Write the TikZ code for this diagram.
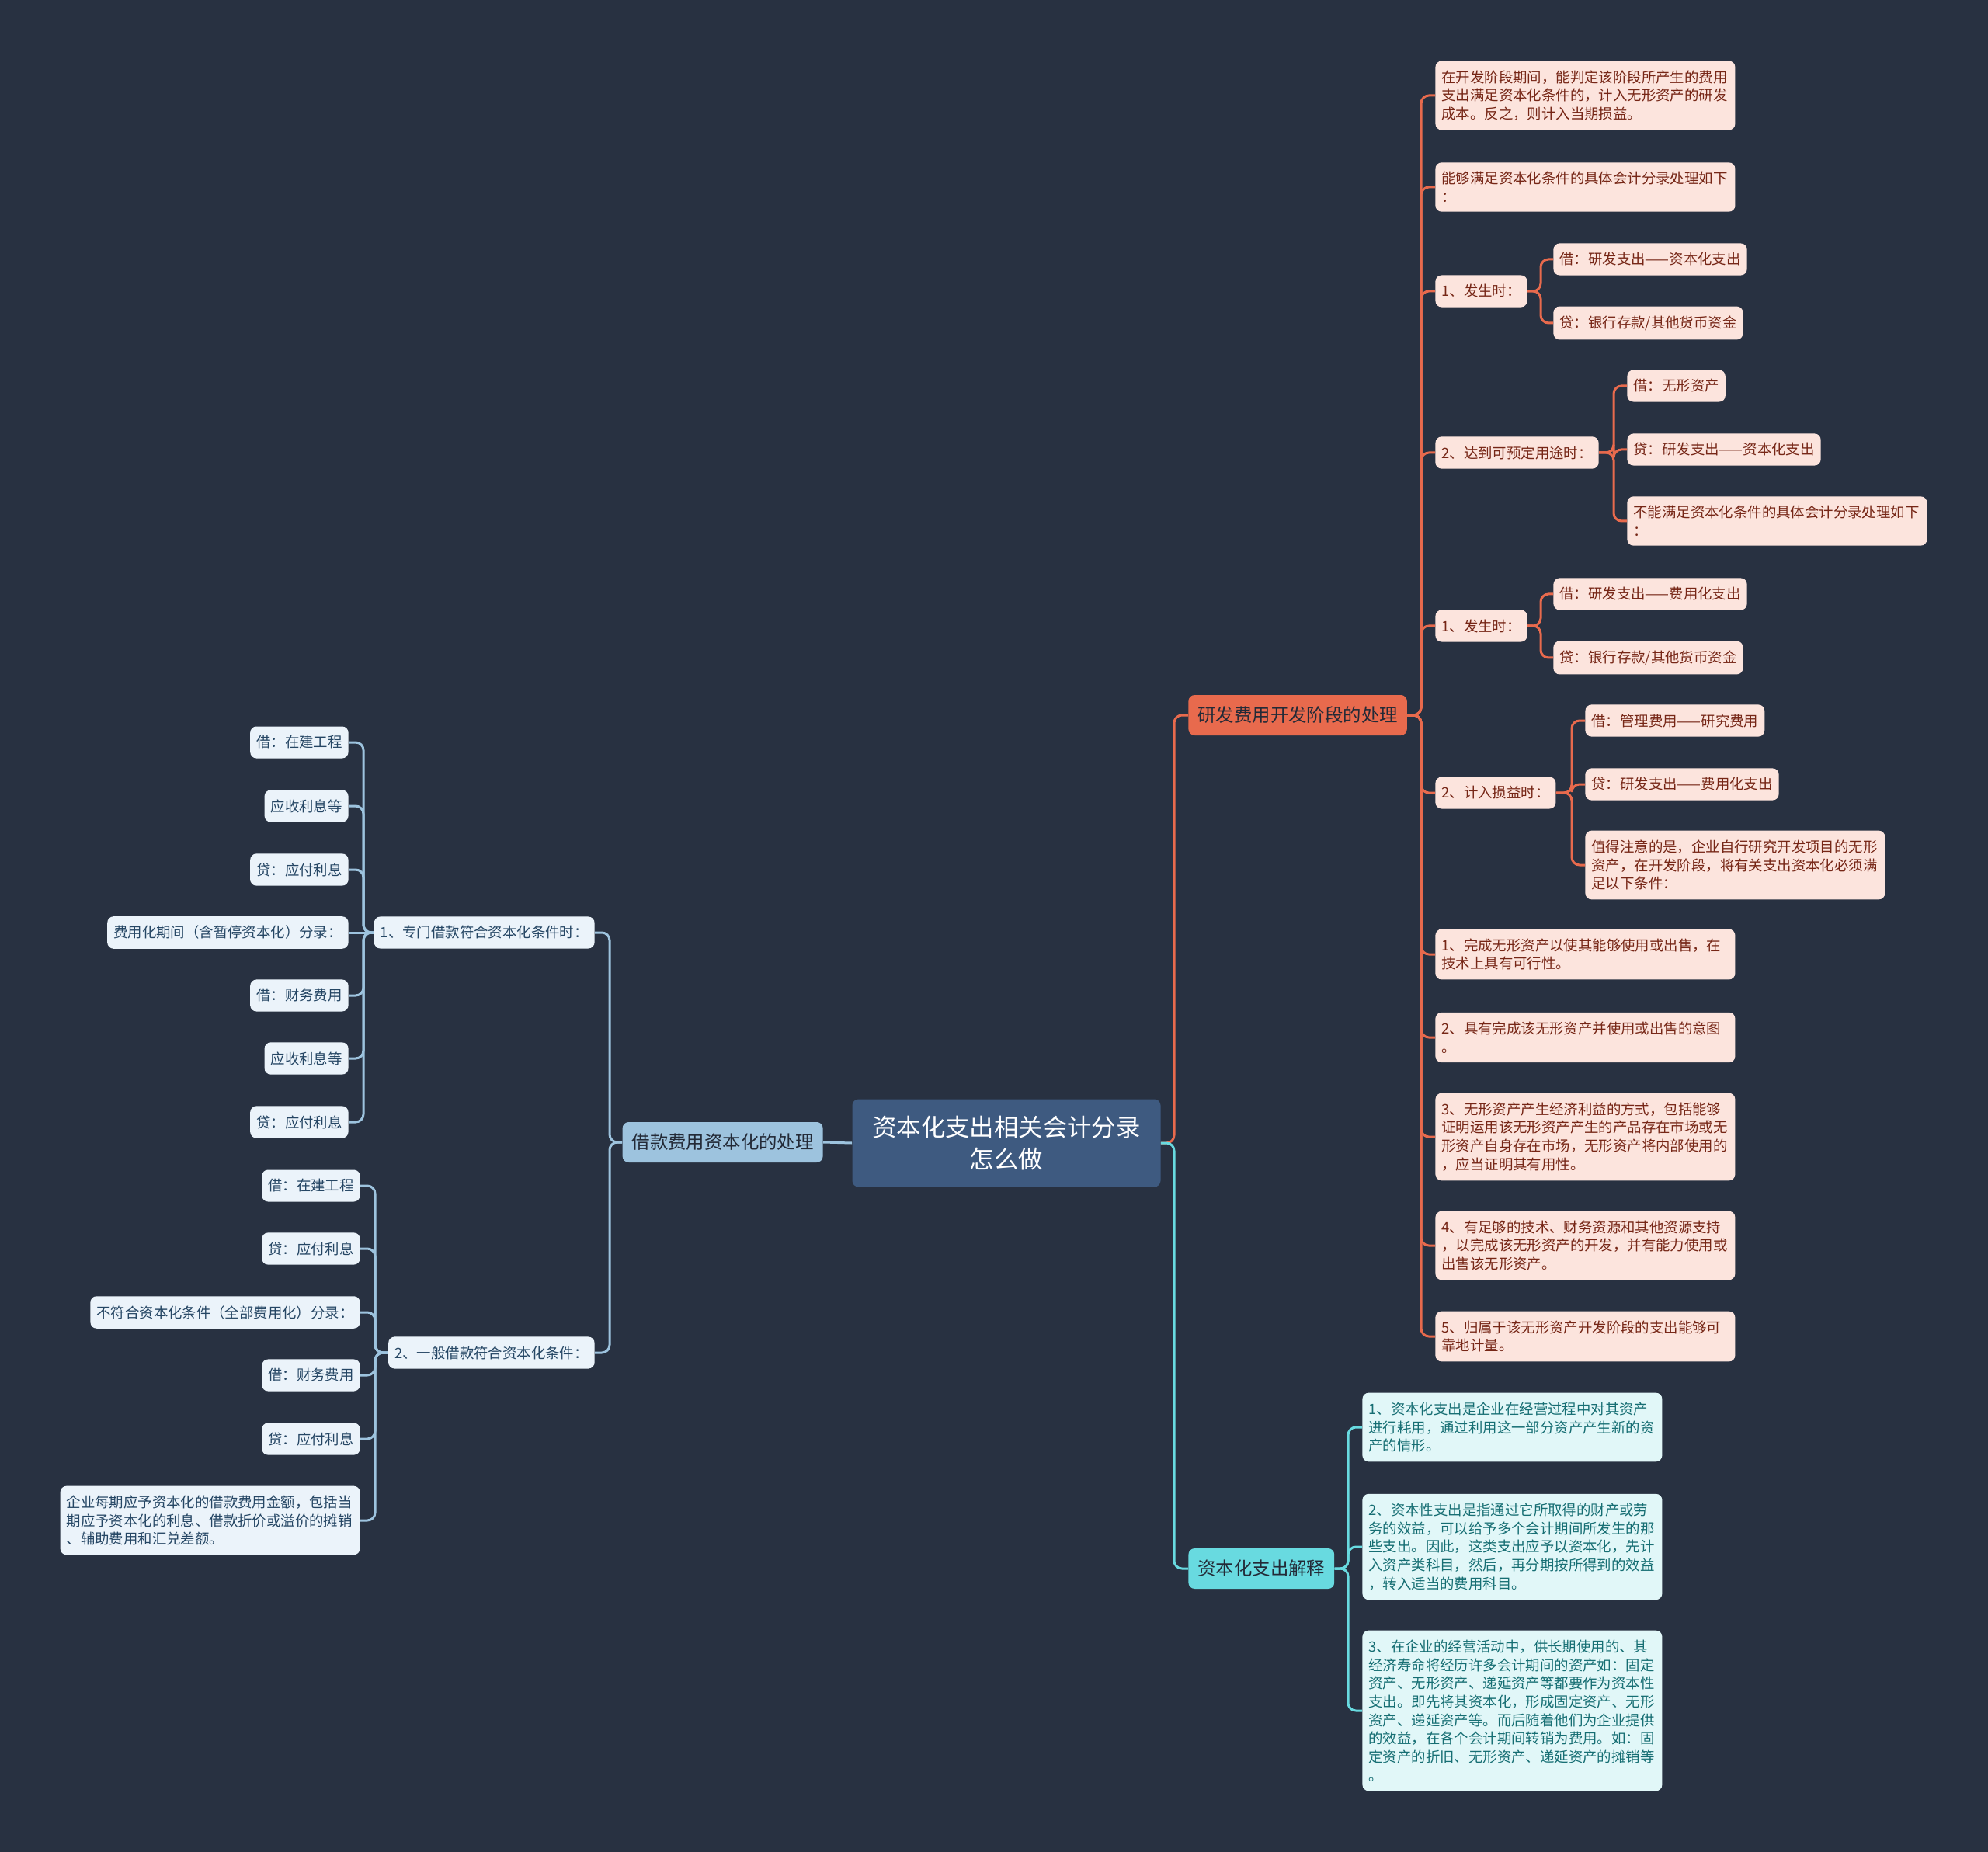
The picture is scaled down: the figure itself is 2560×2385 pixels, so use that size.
\documentclass[tikz,border=0pt]{standalone}
\usepackage{fontspec}
\setmainfont{Noto Sans CJK SC}
\definecolor{bgnavy}{RGB}{40,49,65}
\definecolor{rootblue}{RGB}{62,90,128}
\definecolor{oorange}{RGB}{232,106,77}
\definecolor{opink}{RGB}{252,228,221}
\definecolor{obrown}{RGB}{118,38,22}
\definecolor{bblue}{RGB}{157,195,222}
\definecolor{bpale}{RGB}{235,243,250}
\definecolor{bink}{RGB}{37,70,100}
\definecolor{ccyan}{RGB}{104,218,224}
\definecolor{cpale}{RGB}{225,247,248}
\definecolor{cink}{RGB}{22,110,115}
\definecolor{darkink}{RGB}{35,42,55}
\begin{document}
\begin{tikzpicture}[x=0.5pt,y=-0.5pt,
  rootbox/.style={fill=rootblue, text=white, rounded corners=4pt, align=center,
    minimum width=198.5pt, minimum height=56.5pt, font={\fontsize{15.7pt}{20.5pt}\selectfont}},
  branch/.style={rounded corners=4pt, inner xsep=6pt, minimum height=26pt, text=darkink,
    font={\fontsize{11.7pt}{14pt}\selectfont}},
  leaf/.style={rounded corners=4pt, inner xsep=4pt, inner ysep=6pt, minimum height=20.5pt,
    align=left, font={\fontsize{9.2pt}{11.85pt}\selectfont}},
  oleaf/.style={leaf, fill=opink, text=obrown},
  owide/.style={oleaf, text width=185pt},
  bleaf/.style={leaf, fill=bpale, text=bink},
  bwide/.style={bleaf, text width=185pt},
  cleaf/.style={leaf, fill=cpale, text=cink},
  cwide/.style={cleaf, text width=185pt},
  oline/.style={draw=oorange, line width=1.5pt, rounded corners=5pt},
  bline/.style={draw=bblue, line width=1.5pt, rounded corners=5pt},
  cline/.style={draw=ccyan, line width=1.5pt, rounded corners=5pt}]
\fill[bgnavy] (0,0) rectangle (2560,2385);
\useasboundingbox (0,0) rectangle (2560,2385);

\node[rootbox] (root) at (1296,1472) {资本化支出相关会计分录\\怎么做};
\node[branch, fill=bblue, anchor=east] (bor) at (1060,1471) {借款费用资本化的处理};
\node[branch, fill=oorange, anchor=west] (dev) at (1530,921) {研发费用开发阶段的处理};
\node[branch, fill=ccyan, anchor=west] (exp) at (1530,2020) {资本化支出解释};

\coordinate (sroot) at (1512,0);
\coordinate (sbor) at (785,0);
\coordinate (sb1) at (468,0);
\coordinate (sb2) at (483,0);
\coordinate (sdev) at (1830,0);
\coordinate (sd3) at (1984,0);
\coordinate (sd4) at (2078,0);
\coordinate (sd6) at (2024,0);
\coordinate (sexp) at (1736,0);

\node[bleaf, anchor=east] (b1) at (766,1201) {1、专门借款符合资本化条件时：};
\node[bleaf, anchor=east] (b2) at (766,1742) {2、一般借款符合资本化条件：};

\node[bleaf, anchor=east] (b1a) at (449,956) {借：在建工程};
\node[bleaf, anchor=east] (b1b) at (449,1038) {应收利息等};
\node[bleaf, anchor=east] (b1c) at (449,1120) {贷：应付利息};
\node[bleaf, anchor=east] (b1d) at (449,1201) {费用化期间（含暂停资本化）分录：};
\node[bleaf, anchor=east] (b1e) at (449,1282) {借：财务费用};
\node[bleaf, anchor=east] (b1f) at (449,1363) {应收利息等};
\node[bleaf, anchor=east] (b1g) at (449,1445) {贷：应付利息};

\node[bleaf, anchor=east] (b2a) at (464,1527) {借：在建工程};
\node[bleaf, anchor=east] (b2b) at (464,1608) {贷：应付利息};
\node[bleaf, anchor=east] (b2c) at (464,1690) {不符合资本化条件（全部费用化）分录：};
\node[bleaf, anchor=east] (b2d) at (464,1771) {借：财务费用};
\node[bleaf, anchor=east] (b2e) at (464,1853) {贷：应付利息};
\node[bwide, anchor=east] (b2f) at (464,1958) {企业每期应予资本化的借款费用金额，包括当\\期应予资本化的利息、借款折价或溢价的摊销\\、辅助费用和汇兑差额。};

\node[owide, anchor=west] (d1) at (1848,123) {在开发阶段期间，能判定该阶段所产生的费用\\支出满足资本化条件的，计入无形资产的研发\\成本。反之，则计入当期损益。};
\node[owide, anchor=west] (d2) at (1848,241) {能够满足资本化条件的具体会计分录处理如下\\：};
\node[oleaf, anchor=west] (d3) at (1848,375) {1、发生时：};
\node[oleaf, anchor=west] (d4) at (1848,583) {2、达到可预定用途时：};
\node[oleaf, anchor=west] (d5) at (1848,806) {1、发生时：};
\node[oleaf, anchor=west] (d6) at (1848,1021) {2、计入损益时：};
\node[owide, anchor=west] (d7) at (1848,1229) {1、完成无形资产以使其能够使用或出售，在\\技术上具有可行性。};
\node[owide, anchor=west] (d8) at (1848,1336) {2、具有完成该无形资产并使用或出售的意图\\。};
\node[owide, anchor=west] (d9) at (1848,1464) {3、无形资产产生经济利益的方式，包括能够\\证明运用该无形资产产生的产品存在市场或无\\形资产自身存在市场，无形资产将内部使用的\\，应当证明其有用性。};
\node[owide, anchor=west] (d10) at (1848,1604) {4、有足够的技术、财务资源和其他资源支持\\，以完成该无形资产的开发，并有能力使用或\\出售该无形资产。};
\node[owide, anchor=west] (d11) at (1848,1721) {5、归属于该无形资产开发阶段的支出能够可\\靠地计量。};

\node[oleaf, anchor=west] (d3a) at (2000,334) {借：研发支出——资本化支出};
\node[oleaf, anchor=west] (d3b) at (2000,416) {贷：银行存款/其他货币资金};
\node[oleaf, anchor=west] (d4a) at (2095,497) {借：无形资产};
\node[oleaf, anchor=west] (d4b) at (2095,579) {贷：研发支出——资本化支出};
\node[owide, anchor=west] (d4c) at (2095,671) {不能满足资本化条件的具体会计分录处理如下\\：};
\node[oleaf, anchor=west] (d5a) at (2000,765) {借：研发支出——费用化支出};
\node[oleaf, anchor=west] (d5b) at (2000,847) {贷：银行存款/其他货币资金};
\node[oleaf, anchor=west] (d6a) at (2041,928) {借：管理费用——研究费用};
\node[oleaf, anchor=west] (d6b) at (2041,1010) {贷：研发支出——费用化支出};
\node[owide, anchor=west] (d6c) at (2041,1114) {值得注意的是，企业自行研究开发项目的无形\\资产，在开发阶段，将有关支出资本化必须满\\足以下条件：};

\node[cwide, anchor=west] (e1) at (1754,1838) {1、资本化支出是企业在经营过程中对其资产\\进行耗用，通过利用这一部分资产产生新的资\\产的情形。};
\node[cwide, anchor=west] (e2) at (1754,1992) {2、资本性支出是指通过它所取得的财产或劳\\务的效益，可以给予多个会计期间所发生的那\\些支出。因此，这类支出应予以资本化，先计\\入资产类科目，然后，再分期按所得到的效益\\，转入适当的费用科目。};
\node[cwide, anchor=west] (e3) at (1754,2203) {3、在企业的经营活动中，供长期使用的、其\\经济寿命将经历许多会计期间的资产如：固定\\资产、无形资产、递延资产等都要作为资本性\\支出。即先将其资本化，形成固定资产、无形\\资产、递延资产等。而后随着他们为企业提供\\的效益，在各个会计期间转销为费用。如：固\\定资产的折旧、无形资产、递延资产的摊销等\\。};

\draw[bline] (root.west) -- (bor.east);
\draw[oline] (root.east) -- (root.east -| sroot) |- (dev.west);
\draw[cline] (root.east) -- (root.east -| sroot) |- (exp.west);

\draw[bline] (bor.west) -- (bor.west -| sbor) |- (b1.east);
\draw[bline] (bor.west) -- (bor.west -| sbor) |- (b2.east);
\draw[bline] (b1.west) -- (b1.west -| sb1) |- (b1a.east);
\draw[bline] (b1.west) -- (b1.west -| sb1) |- (b1b.east);
\draw[bline] (b1.west) -- (b1.west -| sb1) |- (b1c.east);
\draw[bline] (b1.west) -- (b1d.east);
\draw[bline] (b1.west) -- (b1.west -| sb1) |- (b1e.east);
\draw[bline] (b1.west) -- (b1.west -| sb1) |- (b1f.east);
\draw[bline] (b1.west) -- (b1.west -| sb1) |- (b1g.east);
\draw[bline] (b2.west) -- (b2.west -| sb2) |- (b2a.east);
\draw[bline] (b2.west) -- (b2.west -| sb2) |- (b2b.east);
\draw[bline] (b2.west) -- (b2.west -| sb2) |- (b2c.east);
\draw[bline] (b2.west) -- (b2.west -| sb2) |- (b2d.east);
\draw[bline] (b2.west) -- (b2.west -| sb2) |- (b2e.east);
\draw[bline] (b2.west) -- (b2.west -| sb2) |- (b2f.east);

\draw[oline] (dev.east) -- (dev.east -| sdev) |- (d1.west);
\draw[oline] (dev.east) -- (dev.east -| sdev) |- (d2.west);
\draw[oline] (dev.east) -- (dev.east -| sdev) |- (d3.west);
\draw[oline] (dev.east) -- (dev.east -| sdev) |- (d4.west);
\draw[oline] (dev.east) -- (dev.east -| sdev) |- (d5.west);
\draw[oline] (dev.east) -- (dev.east -| sdev) |- (d6.west);
\draw[oline] (dev.east) -- (dev.east -| sdev) |- (d7.west);
\draw[oline] (dev.east) -- (dev.east -| sdev) |- (d8.west);
\draw[oline] (dev.east) -- (dev.east -| sdev) |- (d9.west);
\draw[oline] (dev.east) -- (dev.east -| sdev) |- (d10.west);
\draw[oline] (dev.east) -- (dev.east -| sdev) |- (d11.west);
\draw[oline] (d3.east) -- (d3.east -| sd3) |- (d3a.west);
\draw[oline] (d3.east) -- (d3.east -| sd3) |- (d3b.west);
\draw[oline] (d4.east) -- (d4.east -| sd4) |- (d4a.west);
\draw[oline] (d4.east) -- (d4.east -| sd4) |- (d4b.west);
\draw[oline] (d4.east) -- (d4.east -| sd4) |- (d4c.west);
\draw[oline] (d5.east) -- (d5.east -| sd3) |- (d5a.west);
\draw[oline] (d5.east) -- (d5.east -| sd3) |- (d5b.west);
\draw[oline] (d6.east) -- (d6.east -| sd6) |- (d6a.west);
\draw[oline] (d6.east) -- (d6.east -| sd6) |- (d6b.west);
\draw[oline] (d6.east) -- (d6.east -| sd6) |- (d6c.west);

\draw[cline] (exp.east) -- (exp.east -| sexp) |- (e1.west);
\draw[cline] (exp.east) -- (exp.east -| sexp) |- (e2.west);
\draw[cline] (exp.east) -- (exp.east -| sexp) |- (e3.west);
\end{tikzpicture}
\end{document}
